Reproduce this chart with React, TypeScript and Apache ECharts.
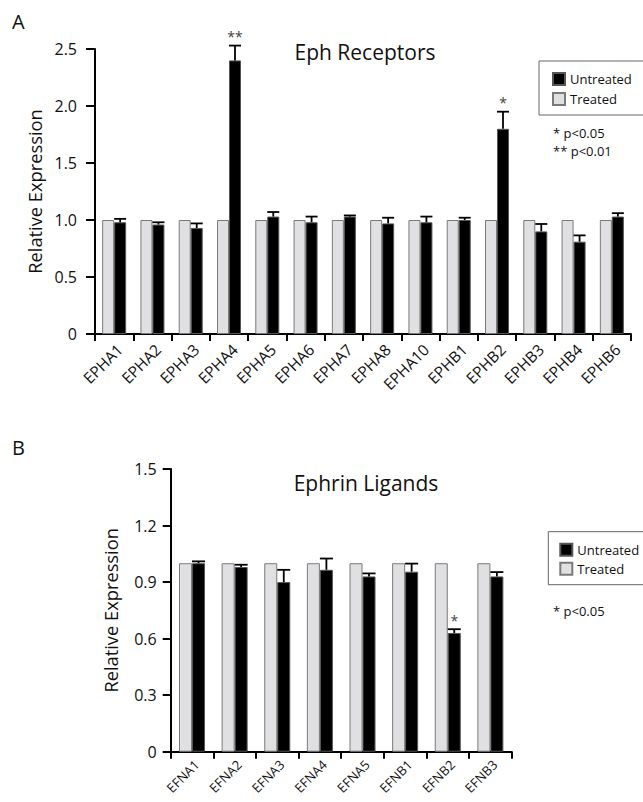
import React, { useEffect, useRef } from "react";
import * as echarts from "echarts";

const receptorCats = ["EPHA1", "EPHA2", "EPHA3", "EPHA4", "EPHA5", "EPHA6", "EPHA7", "EPHA8", "EPHA10", "EPHB1", "EPHB2", "EPHB3", "EPHB4", "EPHB6"];
const receptorTreated = [1, 1, 1, 1, 1, 1, 1, 1, 1, 1, 1, 1, 1, 1];
const receptorUntreated = [0.98, 0.96, 0.93, 2.4, 1.03, 0.98, 1.03, 0.97, 0.98, 1.0, 1.8, 0.9, 0.81, 1.03];
const receptorErr = [0.03, 0.02, 0.04, 0.13, 0.04, 0.05, 0.01, 0.05, 0.05, 0.02, 0.15, 0.065, 0.055, 0.03];
const receptorSig = ["", "", "", "**", "", "", "", "", "", "", "*", "", "", ""];
const receptorTicks = [0, 0.5, 1.0, 1.5, 2.0, 2.5];

const ligandCats = ["EFNA1", "EFNA2", "EFNA3", "EFNA4", "EFNA5", "EFNB1", "EFNB2", "EFNB3"];
const ligandTreated = [1, 1, 1, 1, 1, 1, 1, 1];
const ligandUntreated = [1.0, 0.98, 0.9, 0.965, 0.93, 0.955, 0.63, 0.93];
const ligandErr = [0.01, 0.012, 0.065, 0.06, 0.016, 0.043, 0.02, 0.023];
const ligandSig = ["", "", "", "", "", "", "*", ""];
const ligandTicks = [0, 0.3, 0.6, 0.9, 1.2, 1.5];

const FONT = "'Open Sans', 'Noto Sans', sans-serif";
const TREATED_FILL = "#e0e0e2";
const TREATED_BORDER = "#7a7a7a";

function errRender(barW: number, sig: string[]) {
  return (params: any, api: any) => {
    const i = api.value(0);
    const v = api.value(1);
    const e = api.value(2);
    const base = api.coord([i, v]);
    const top = api.coord([i, v + e]);
    const x = base[0] + barW / 2;
    const children: any[] = [
      { type: "line", shape: { x1: x, y1: base[1], x2: x, y2: top[1] }, style: { stroke: "#000", lineWidth: 1.8 } },
      { type: "line", shape: { x1: x - barW / 2, y1: top[1], x2: x + barW / 2, y2: top[1] }, style: { stroke: "#000", lineWidth: 1.8 } },
    ];
    const s = sig[params.dataIndex];
    if (s) {
      children.push({
        type: "text",
        x: x,
        y: top[1] - 2,
        style: { text: s, fontSize: 14, fontFamily: FONT, fill: "#444", align: "center", verticalAlign: "bottom" },
      });
    }
    return { type: "group", children };
  };
}

const fmt = (v: number) => (v === 0 ? "0" : v.toFixed(1));

export default function App() {
  const ref = useRef<HTMLDivElement>(null);
  useEffect(() => {
    if (!ref.current) return;
    const chart = echarts.init(ref.current, null, { renderer: "svg" });
    const axisLineStyle = { color: "#000", width: 2 };
    const makeX = (cats: string[], gridIndex: number, fs: number, margin: number) => ({
      type: "category",
      gridIndex,
      data: cats,
      boundaryGap: true,
      axisLine: { show: true, lineStyle: axisLineStyle },
      axisTick: { show: true, alignWithLabel: false, length: 7, lineStyle: axisLineStyle },
      axisLabel: { rotate: 45, fontSize: fs, fontFamily: FONT, color: "#111", margin, interval: 0, verticalAlign: "top" },
      splitLine: { show: false },
    });
    const makeY = (ticks: number[], gridIndex: number, nameGap: number, tickLen: number, margin: number) => ({
      type: "value",
      gridIndex,
      min: ticks[0],
      max: ticks[ticks.length - 1],
      interval: ticks[1] - ticks[0],
      name: "Relative Expression",
      nameLocation: "middle",
      nameGap,
      nameTextStyle: { fontSize: 18.3, fontFamily: FONT, color: "#111" },
      axisLine: { show: true, lineStyle: axisLineStyle },
      axisTick: { show: true, length: tickLen, lineStyle: axisLineStyle },
      axisLabel: { fontSize: 16, fontFamily: FONT, color: "#111", margin, formatter: fmt },
      splitLine: { show: false },
    });
    const legendBase = {
      orient: "vertical",
      data: ["Untreated", "Treated"],
      itemWidth: 12,
      itemHeight: 12,
      icon: "rect",
      borderColor: "#666",
      borderWidth: 1,
      textStyle: { fontSize: 13, fontFamily: FONT, color: "#111" },
      selectedMode: false,
    };
    chart.setOption({
      animation: false,
      backgroundColor: "#fff",
      grid: [
        { left: 95, top: 49, width: 536, height: 285 },
        { left: 170.7, top: 469, width: 341, height: 282.7 },
      ],
      xAxis: [makeX(receptorCats, 0, 15.5, 7), makeX(ligandCats, 1, 13, 6)],
      yAxis: [makeY(receptorTicks, 0, 46, 9, 18), makeY(ligandTicks, 1, 51, 8, 14)],
      legend: [
        { ...legendBase, left: 539, top: 61, itemGap: 6, padding: [11, 60, 9, 13] },
        { ...legendBase, left: 548.3, top: 531.7, itemGap: 5, padding: [11, 60, 9, 11] },
      ],
      series: [
        {
          type: "bar", name: "Treated", xAxisIndex: 0, yAxisIndex: 0, data: receptorTreated,
          barWidth: 12, barGap: "0%",
          itemStyle: { color: TREATED_FILL, borderColor: TREATED_BORDER, borderWidth: 1 },
        },
        {
          type: "bar", name: "Untreated", xAxisIndex: 0, yAxisIndex: 0, data: receptorUntreated,
          barWidth: 12, barGap: "0%",
          itemStyle: { color: "#000", borderColor: "#555", borderWidth: 1 },
        },
        {
          type: "custom", name: "errA", xAxisIndex: 0, yAxisIndex: 0, z: 5,
          data: receptorUntreated.map((v, i) => [i, v, receptorErr[i]]),
          renderItem: errRender(12, receptorSig),
        },
        {
          type: "bar", name: "Treated", xAxisIndex: 1, yAxisIndex: 1, data: ligandTreated,
          barWidth: 13, barGap: "0%",
          itemStyle: { color: TREATED_FILL, borderColor: TREATED_BORDER, borderWidth: 1 },
        },
        {
          type: "bar", name: "Untreated", xAxisIndex: 1, yAxisIndex: 1, data: ligandUntreated,
          barWidth: 13, barGap: "0%",
          itemStyle: { color: "#000", borderColor: "#555", borderWidth: 1 },
        },
        {
          type: "custom", name: "errB", xAxisIndex: 1, yAxisIndex: 1, z: 5,
          data: ligandUntreated.map((v, i) => [i, v, ligandErr[i]]),
          renderItem: errRender(13, ligandSig),
        },
      ],
      graphic: [
        { type: "text", x: 12, y: 21, style: { text: "A", fontSize: 20, fontFamily: FONT, fill: "#111", verticalAlign: "middle" } },
        { type: "text", x: 12, y: 447, style: { text: "B", fontSize: 20, fontFamily: FONT, fill: "#111", verticalAlign: "middle" } },
        { type: "text", x: 365, y: 52, style: { text: "Eph Receptors", fontSize: 21, fontFamily: FONT, fill: "#111", align: "center", verticalAlign: "middle" } },
        { type: "text", x: 366, y: 483, style: { text: "Ephrin Ligands", fontSize: 21, fontFamily: FONT, fill: "#111", align: "center", verticalAlign: "middle" } },
        { type: "text", x: 553, y: 132.5, style: { text: "* p<0.05", fontSize: 13, fontFamily: FONT, fill: "#111", verticalAlign: "middle" } },
        { type: "text", x: 553, y: 150.5, style: { text: "** p<0.01", fontSize: 13, fontFamily: FONT, fill: "#111", verticalAlign: "middle" } },
        { type: "text", x: 553, y: 610.7, style: { text: "* p<0.05", fontSize: 13, fontFamily: FONT, fill: "#111", verticalAlign: "middle" } },
      ],
    });
    return () => chart.dispose();
  }, []);
  return <div ref={ref} style={{ position: "absolute", left: 0, top: 0, width: 643, height: 802, background: "#fff" }} />;
}
